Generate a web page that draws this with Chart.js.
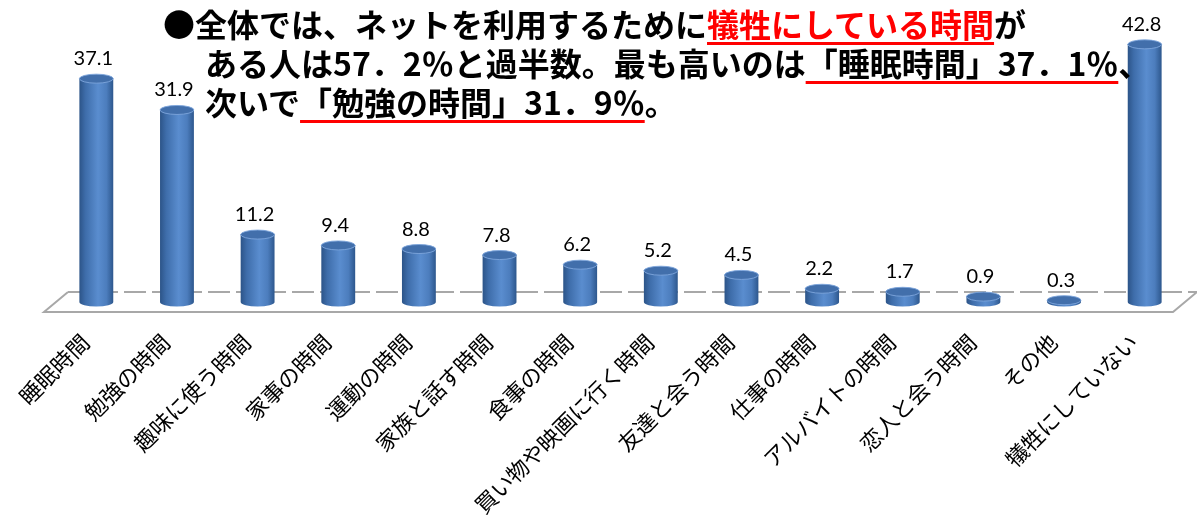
<!DOCTYPE html>
<html lang="ja">
<head>
<meta charset="utf-8">
<title>ネットを利用するために犠牲にしている時間</title>
<script src="https://cdn.jsdelivr.net/npm/chart.js@4.4.1/dist/chart.umd.min.js"></script>
<style>
    html, body { margin: 0; padding: 0; background: #fff; }
    .wrap { position: relative; width: 1197px; height: 517px; }
    .headline {
        position: absolute; left: 163px; top: 4px;
        font-family: "Noto Sans CJK JP", sans-serif; font-weight: 700;
        font-size: 32px; line-height: 39px; color: #000; white-space: nowrap;
    }
    .headline .indent { padding-left: 42px; }
    .red { color: #ff0000; }
    .ul {
        text-decoration: underline; text-decoration-color: #ff0000;
        text-decoration-thickness: 3px; text-underline-offset: 5px;
    }
</style>
</head>
<body>
<div class="wrap">
    <canvas id="sacrificeChart"></canvas>
    <div class="headline">
        <div>●全体では、ネットを利用するために<span class="red ul">犠牲にしている時間</span>が</div>
        <div class="indent">ある人は57．2％と過半数。最も高いのは<span class="ul">「睡眠時間」37．1％</span>、</div>
        <div class="indent">次いで<span class="ul">「勉強の時間」31．9％</span>。</div>
    </div>
</div>
<script>
// values (%)
const categories = ['睡眠時間', '勉強の時間', '趣味に使う時間', '家事の時間', '運動の時間', '家族と話す時間',
    '食事の時間', '買い物や映画に行く時間', '友達と会う時間', '仕事の時間', 'アルバイトの時間',
    '恋人と会う時間', 'その他', '犠牲にしていない'];
const shares = [37.1, 31.9, 11.2, 9.4, 8.8, 7.8, 6.2, 5.2, 4.5, 2.2, 1.7, 0.9, 0.3, 42.8];

const BAR_PCT = 0.42;
const CAP_RY = 4.5;

// horizontal shading that makes a bar look like a cylinder
function cylinderGradient(ctx, x, half) {
    const g = ctx.createLinearGradient(x - half, 0, x + half, 0);
    g.addColorStop(0, '#2c5488');
    g.addColorStop(0.18, '#3e6daa');
    g.addColorStop(0.55, '#5a8dcf');
    g.addColorStop(0.8, '#4c7dbd');
    g.addColorStop(1, '#2d578d');
    return g;
}

const Cylinders = {
    id: 'cylinders',

    // 3D floor: dashed back edge, solid front edge
    beforeDatasetsDraw(chart) {
        const ctx = chart.ctx, a = chart.chartArea;
        const y0 = chart.scales.y.getPixelForValue(0);
        const dx = 12, dy = 10;
        ctx.save();
        ctx.strokeStyle = '#a8a8a8';
        ctx.lineWidth = 2;
        ctx.setLineDash([22, 6]);
        ctx.beginPath();
        ctx.moveTo(a.left + dx, y0 - dy);
        ctx.lineTo(a.right + dx, y0 - dy);
        ctx.stroke();
        ctx.setLineDash([]);
        ctx.beginPath();
        ctx.moveTo(a.left + dx, y0 - dy);
        ctx.lineTo(a.left - dx, y0 + dy);
        ctx.lineTo(a.right - dx, y0 + dy);
        ctx.lineTo(a.right + dx, y0 - dy);
        ctx.stroke();
        ctx.restore();
    },

    afterDatasetsDraw(chart) {
        const ctx = chart.ctx;
        const meta = chart.getDatasetMeta(0);
        const data = chart.data.datasets[0].data;
        ctx.save();
        meta.data.forEach((bar, i) => {
            const half = bar.width / 2;
            // rounded bottom
            ctx.fillStyle = cylinderGradient(ctx, bar.x, half);
            ctx.beginPath();
            ctx.ellipse(bar.x, bar.base, half, CAP_RY, 0, 0, Math.PI);
            ctx.fill();
            // top cap
            ctx.fillStyle = '#426fab';
            ctx.beginPath();
            ctx.ellipse(bar.x, bar.y, half, CAP_RY, 0, 0, Math.PI * 2);
            ctx.fill();
            ctx.strokeStyle = 'rgba(125,165,220,0.9)';
            ctx.lineWidth = 1;
            ctx.stroke();
            // value label
            ctx.fillStyle = '#000';
            ctx.font = '20px Lato, "Liberation Sans", sans-serif';
            ctx.textAlign = 'center';
            ctx.textBaseline = 'alphabetic';
            ctx.fillText(data[i].toFixed(1), bar.x - 3, bar.y - CAP_RY - 9);
        });
        ctx.restore();
    }
};

function renderChart() {
    new Chart(document.getElementById('sacrificeChart'), {
        type: 'bar',
        data: {
            labels: categories,
            datasets: [{
                data: shares,
                backgroundColor: c => {
                    const chart = c.chart;
                    if (!chart.chartArea || c.type !== 'data') return '#4a7ebb';
                    const xs = chart.scales.x;
                    const x = xs.getPixelForValue(c.dataIndex);
                    const half = (xs.getPixelForValue(1) - xs.getPixelForValue(0)) * BAR_PCT / 2;
                    return cylinderGradient(chart.ctx, x, half);
                },
                borderWidth: 0,
                categoryPercentage: 1,
                barPercentage: BAR_PCT
            }]
        },
        options: {
            responsive: true, maintainAspectRatio: false, animation: false,
            plugins: { legend: { display: false }, tooltip: { enabled: false } },
            layout: { padding: { top: 1, left: 56, right: 12, bottom: 0 } },
            scales: {
                x: {
                    grid: { display: false, drawTicks: false },
                    border: { display: false },
                    ticks: {
                        color: '#000', autoSkip: false,
                        minRotation: 45, maxRotation: 45,
                        padding: 27, labelOffset: -11,
                        font: { family: '"Noto Sans CJK JP", sans-serif', size: 22 }
                    },
                    afterFit: s => { s.height = 215; }
                },
                y: { display: false, min: 0, max: 50 }
            }
        },
        plugins: [Cylinders]
    });
}

document.addEventListener('DOMContentLoaded', renderChart);
</script>
</body>
</html>
